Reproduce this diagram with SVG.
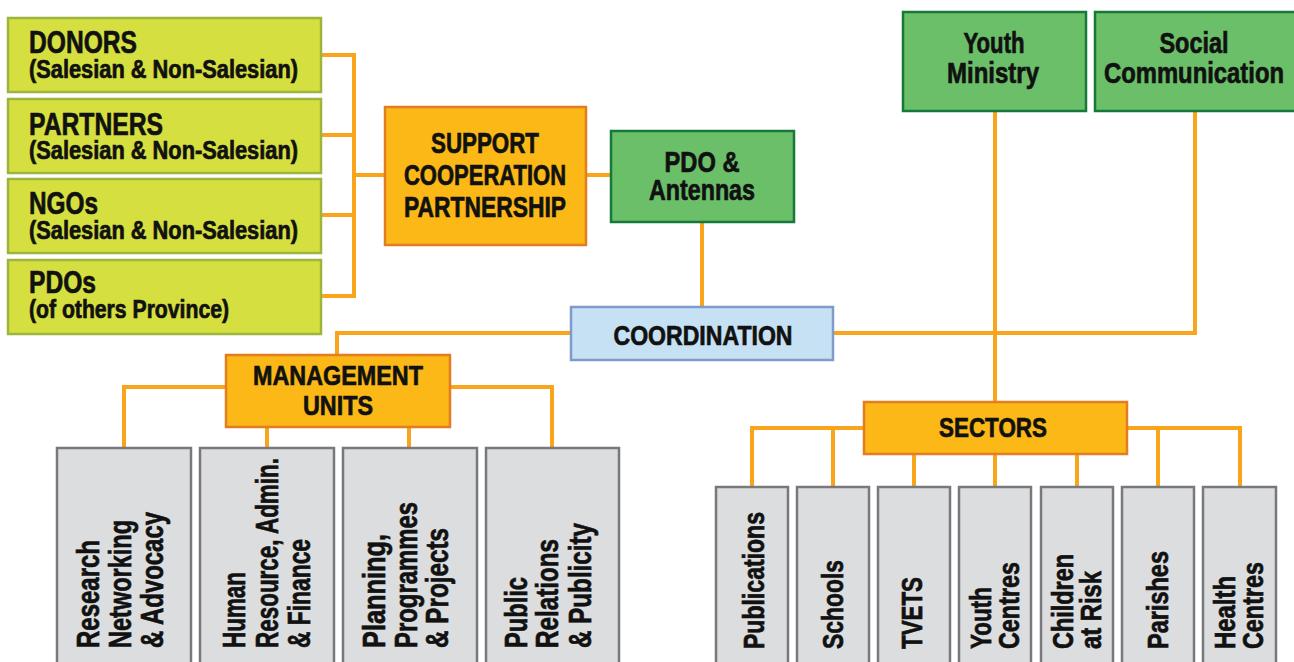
<svg xmlns="http://www.w3.org/2000/svg" width="1294" height="662" viewBox="0 0 1294 662">
<style>
text{font-family:"Liberation Sans",Arial,sans-serif;font-weight:bold;fill:#111;stroke:#111;stroke-width:0.7;}
.lime{fill:#d5df3f;stroke:#9db53c;stroke-width:2.5;}
.orange{fill:#fbb817;stroke:#e27d22;stroke-width:2.5;}
.green{fill:#6bbf69;stroke:#16793b;stroke-width:2.5;}
.blue{fill:#c7e1f4;stroke:#7f9bc9;stroke-width:2.5;}
.grey{fill:#dcdddf;stroke:#78797c;stroke-width:2.5;}
.conn{fill:none;stroke:#f8a51c;stroke-width:4;}
.t32{font-size:32px;}
.t25{font-size:25px;}
.t29{font-size:29px;}
.t30{font-size:30px;}
.t28{font-size:28px;}
.m{text-anchor:middle;}
</style>
<g id="connectors">
<path class="conn" d="M321 55H354V296H321M321 135H354M321 215H354M354 175H386"/>
<path class="conn" d="M586 175H611"/>
<path class="conn" d="M702 222V307"/>
<path class="conn" d="M571 333H337V355"/>
<path class="conn" d="M833 333H1195V111"/>
<path class="conn" d="M995 111V402"/>
<path class="conn" d="M226 387H124V448M450 387H552V448M267 427V448M409 427V448"/>
<path class="conn" d="M864 428H752V487M833 428V487M1127 428H1240V487M1158 428V487M914 454V487M995 454V487M1077 454V487"/>
</g>
<g id="donors"><rect class="lime" x="8" y="18" width="313" height="74"/><text class="t32" x="29" y="53" textLength="108" lengthAdjust="spacingAndGlyphs">DONORS</text><text class="t25" x="29" y="78" textLength="269" lengthAdjust="spacingAndGlyphs">(Salesian &amp; Non-Salesian)</text></g>
<g id="partners"><rect class="lime" x="8" y="99" width="313" height="74"/><text class="t32" x="29" y="135" textLength="134" lengthAdjust="spacingAndGlyphs">PARTNERS</text><text class="t25" x="29" y="159" textLength="269" lengthAdjust="spacingAndGlyphs">(Salesian &amp; Non-Salesian)</text></g>
<g id="ngos"><rect class="lime" x="8" y="179" width="313" height="74"/><text class="t32" x="29" y="214" textLength="69" lengthAdjust="spacingAndGlyphs">NGOs</text><text class="t25" x="29" y="239" textLength="269" lengthAdjust="spacingAndGlyphs">(Salesian &amp; Non-Salesian)</text></g>
<g id="pdos"><rect class="lime" x="8" y="260" width="313" height="74"/><text class="t32" x="29" y="293" textLength="67" lengthAdjust="spacingAndGlyphs">PDOs</text><text class="t25" x="29" y="318" textLength="200" lengthAdjust="spacingAndGlyphs">(of others Province)</text></g>
<g id="support"><rect class="orange" x="385" y="107" width="201" height="138"/><text class="t29 m" x="485" y="153" textLength="108" lengthAdjust="spacingAndGlyphs">SUPPORT</text><text class="t29 m" x="485" y="185" textLength="162" lengthAdjust="spacingAndGlyphs">COOPERATION</text><text class="t29 m" x="485" y="217" textLength="162" lengthAdjust="spacingAndGlyphs">PARTNERSHIP</text></g>
<g id="pdo-antennas"><rect class="green" x="611" y="131" width="183" height="91"/><text class="t30 m" x="702" y="172" textLength="75" lengthAdjust="spacingAndGlyphs">PDO &amp;</text><text class="t30 m" x="702" y="200" textLength="106" lengthAdjust="spacingAndGlyphs">Antennas</text></g>
<g id="coordination"><rect class="blue" x="571" y="307" width="262" height="53"/><text class="t28 m" x="703" y="345" textLength="179" lengthAdjust="spacingAndGlyphs">COORDINATION</text></g>
<g id="youth-ministry"><rect class="green" x="903" y="12" width="183" height="99"/><text class="t30 m" x="994" y="53" textLength="61" lengthAdjust="spacingAndGlyphs">Youth</text><text class="t30 m" x="993" y="83" textLength="92" lengthAdjust="spacingAndGlyphs">Ministry</text></g>
<g id="social-communication"><rect class="green" x="1095" y="12" width="203" height="99"/><text class="t30 m" x="1194" y="53" textLength="69" lengthAdjust="spacingAndGlyphs">Social</text><text class="t30 m" x="1194" y="83" textLength="180" lengthAdjust="spacingAndGlyphs">Communication</text></g>
<g id="management-units"><rect class="orange" x="226" y="355" width="224" height="72"/><text class="t28 m" x="338" y="385" textLength="170" lengthAdjust="spacingAndGlyphs">MANAGEMENT</text><text class="t28 m" x="338" y="415" textLength="70" lengthAdjust="spacingAndGlyphs">UNITS</text></g>
<g id="sectors"><rect class="orange" x="864" y="402" width="263" height="52"/><text class="t28 m" x="993" y="437" textLength="108" lengthAdjust="spacingAndGlyphs">SECTORS</text></g>
<g id="research"><rect class="grey" x="57" y="448" width="134" height="230"/>
<text class="t32" transform="translate(99 648) rotate(-90)" textLength="108" lengthAdjust="spacingAndGlyphs">Research</text>
<text class="t32" transform="translate(131 648) rotate(-90)" textLength="128" lengthAdjust="spacingAndGlyphs">Networking</text>
<text class="t32" transform="translate(163 648) rotate(-90)" textLength="136" lengthAdjust="spacingAndGlyphs">&amp; Advocacy</text></g>
<g id="human-resource"><rect class="grey" x="200" y="448" width="134" height="230"/>
<text class="t32" transform="translate(245 648) rotate(-90)" textLength="76" lengthAdjust="spacingAndGlyphs">Human</text>
<text class="t32" transform="translate(278 648) rotate(-90)" textLength="190" lengthAdjust="spacingAndGlyphs">Resource, Admin.</text>
<text class="t32" transform="translate(310 648) rotate(-90)" textLength="109" lengthAdjust="spacingAndGlyphs">&amp; Finance</text></g>
<g id="planning"><rect class="grey" x="343" y="448" width="134" height="230"/>
<text class="t32" transform="translate(385 648) rotate(-90)" textLength="114" lengthAdjust="spacingAndGlyphs">Planning,</text>
<text class="t32" transform="translate(417 648) rotate(-90)" textLength="146" lengthAdjust="spacingAndGlyphs">Programmes</text>
<text class="t32" transform="translate(448 648) rotate(-90)" textLength="120" lengthAdjust="spacingAndGlyphs">&amp; Projects</text></g>
<g id="public-relations"><rect class="grey" x="486" y="448" width="133" height="230"/>
<text class="t32" transform="translate(527 648) rotate(-90)" textLength="71" lengthAdjust="spacingAndGlyphs">Public</text>
<text class="t32" transform="translate(558 648) rotate(-90)" textLength="109" lengthAdjust="spacingAndGlyphs">Relations</text>
<text class="t32" transform="translate(591 648) rotate(-90)" textLength="125" lengthAdjust="spacingAndGlyphs">&amp; Publicity</text></g>
<g id="publications"><rect class="grey" x="716" y="487" width="72" height="190"/>
<text class="t30" transform="translate(764 649) rotate(-90)" textLength="137" lengthAdjust="spacingAndGlyphs">Publications</text></g>
<g id="schools"><rect class="grey" x="797" y="487" width="72" height="190"/>
<text class="t30" transform="translate(843 649) rotate(-90)" textLength="89" lengthAdjust="spacingAndGlyphs">Schools</text></g>
<g id="tvets"><rect class="grey" x="878" y="487" width="72" height="190"/>
<text class="t30" transform="translate(922 649) rotate(-90)" textLength="72" lengthAdjust="spacingAndGlyphs">TVETS</text></g>
<g id="youth-centres"><rect class="grey" x="959" y="487" width="72" height="190"/>
<text class="t30" transform="translate(991 649) rotate(-90)" textLength="62" lengthAdjust="spacingAndGlyphs">Youth</text>
<text class="t30" transform="translate(1019 649) rotate(-90)" textLength="87" lengthAdjust="spacingAndGlyphs">Centres</text></g>
<g id="children-at-risk"><rect class="grey" x="1041" y="487" width="72" height="190"/>
<text class="t30" transform="translate(1073 649) rotate(-90)" textLength="95" lengthAdjust="spacingAndGlyphs">Children</text>
<text class="t30" transform="translate(1101 649) rotate(-90)" textLength="78" lengthAdjust="spacingAndGlyphs">at Risk</text></g>
<g id="parishes"><rect class="grey" x="1122" y="487" width="72" height="190"/>
<text class="t30" transform="translate(1168 649) rotate(-90)" textLength="98" lengthAdjust="spacingAndGlyphs">Parishes</text></g>
<g id="health-centres"><rect class="grey" x="1203" y="487" width="73" height="190"/>
<text class="t30" transform="translate(1235 649) rotate(-90)" textLength="73" lengthAdjust="spacingAndGlyphs">Health</text>
<text class="t30" transform="translate(1263 649) rotate(-90)" textLength="87" lengthAdjust="spacingAndGlyphs">Centres</text></g>
</svg>
